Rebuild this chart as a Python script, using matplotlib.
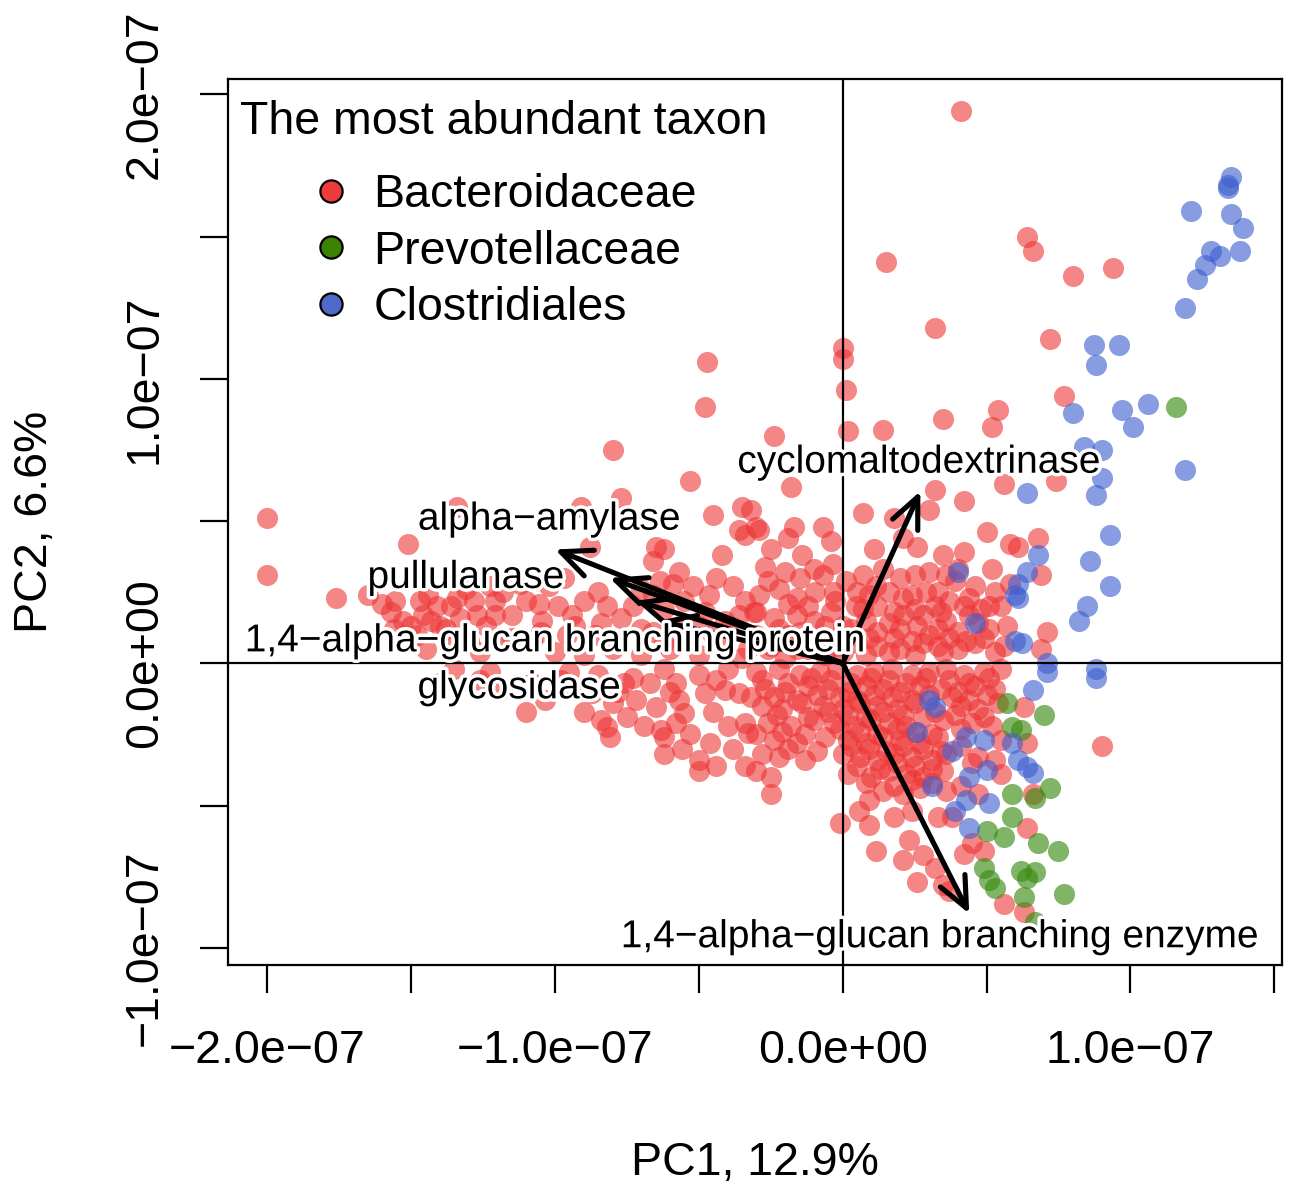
import matplotlib
matplotlib.use("Agg")
import matplotlib.pyplot as plt
import matplotlib.patheffects as pe
from matplotlib.lines import Line2D
from matplotlib.ticker import FuncFormatter, MultipleLocator
import numpy as np

SCALE = 1e-7  # values below are in units of 1e-7

# ---------------- data (PC1, PC2) in units of 1e-7 ----------------
bact_top = [(0.41,1.94),(0.15,1.41),(0.32,1.18),(0.00,1.11),(0.00,1.07),(0.64,1.50),(0.66,1.45),
            (0.80,1.36),(0.94,1.39),(0.72,1.14),(-0.47,1.06),(-0.48,0.90),(-0.24,0.80),(-0.53,0.64),
            (-0.80,0.75),(-0.77,0.58),(-1.34,0.55),(-1.51,0.42),(-2.00,0.51),(-2.00,0.31),(-1.76,0.23),
            (0.01,0.96),(0.35,0.86),(0.54,0.89),(0.52,0.83),(0.02,0.815),(0.14,0.82),(0.77,0.94),
            (-0.18,0.62),(0.56,0.63),(0.42,0.57),(0.32,0.61),(0.07,0.53),(0.18,0.51),(0.30,0.54),
            (-0.17,0.48),(-0.07,0.48),(-0.19,0.44),(-0.04,0.43),(-0.14,0.38),(-0.30,0.48),(0.11,0.40),
            (0.21,0.44),(0.26,0.41),(0.35,0.38),(0.42,0.39),(0.50,0.46),(0.58,0.42),(0.46,0.27),
            (0.39,0.29),(0.74,0.64),(0.68,0.44),(0.69,0.31),(0.61,0.41),(0.71,0.11),(0.69,0.05),
            (-0.35,0.55),(-0.45,0.52),(-0.25,0.40),(-0.34,0.45),(-0.91,0.55)]
bact_left_up = [(-0.32,0.54),(-0.36,0.47),(-0.29,0.47),(-0.65,0.41),(-0.62,0.40),(-0.66,0.36),
                (-0.88,0.41),(-0.42,0.38),(-0.57,0.32),(-0.85,0.25),(-0.635,0.29),(-0.59,0.28),
                (-0.52,0.27),(-0.465,0.24),(-0.66,0.24),(-0.34,0.22),(-0.36,0.17),(-0.41,0.15),
                (-0.50,0.13),(-0.57,0.13),(-0.66,0.11),(-0.73,0.20),(-1.02,0.27),(-1.10,0.22),
                (-1.055,0.21),(-1.15,0.17),(-0.99,0.20),(-0.94,0.17),(-1.18,0.25),(-1.21,0.17),
                (-1.045,0.15),(-0.93,0.13),(-0.84,0.14),(-0.78,0.08),(-1.15,0.09),(-1.08,0.08),
                (-1.60,0.21),(-1.555,0.22),(-1.46,0.17),(-1.41,0.20),(-1.53,0.15),(-1.43,0.15),
                (-1.36,0.20),(-1.33,0.16),(-1.50,0.13),(-1.24,0.13),(-1.225,0.27),(-1.47,0.22),
                (-1.38,0.12),(-1.30,0.08),(-1.28,0.22),(-1.31,0.26),
                (-1.00,0.04),(-0.90,0.03),(-0.80,0.05),(-0.70,0.03),(-0.60,0.05),(-0.50,0.03),
                (-0.42,0.06),(-0.35,0.02),(-0.26,0.05),(-0.20,0.02),(-0.12,0.05),(-0.06,0.03),
                (-0.55,0.09),(-0.45,0.10),(-0.30,0.10)]
bact_left_up2 = [(-1.12,0.28),(-0.97,0.30),(-0.90,0.22),(-0.82,0.20),(-0.77,0.16),(-0.70,0.26),
                 (-0.62,0.19),(-0.55,0.22),(-0.48,0.18),(-0.44,0.30),(-0.38,0.27),(-0.31,0.18),
                 (-0.86,0.10),(-0.96,0.10),(-1.05,0.11),(-1.20,0.08),(-0.70,0.12),(-0.62,0.07),
                 (-0.40,0.12),(-0.33,0.05),(-1.65,0.24),(-1.57,0.18),(-1.44,0.24),(-1.40,0.13),
                 (-1.34,0.23),(-1.27,0.17),(-1.21,0.22),(-1.48,0.10),(-1.56,0.12),(-1.35,0.09),
                 (-1.26,0.04),(-1.45,0.05)]
bact_left_down = [(-1.10,-0.17),(-0.82,-0.225),(-0.81,-0.26),(-0.84,-0.20),(-0.63,-0.235),
                  (-0.62,-0.26),(-0.62,-0.32),(-0.53,-0.25),(-0.46,-0.28),(-0.50,-0.34),
                  (-0.50,-0.38),(-0.34,-0.36),(-0.34,-0.21),(-0.33,-0.245),(-0.76,-0.07),
                  (-0.72,-0.13),(-0.65,-0.155),(-0.57,-0.13),(-0.55,-0.175),(-0.48,-0.105),
                  (-0.41,-0.095),(-0.36,-0.105),(-0.32,-0.12),(-0.58,-0.07),(-0.67,-0.07),
                  (-0.93,-0.095),(-1.035,-0.13),(-1.08,-0.07),(-0.87,-0.105),(-0.80,-0.14),
                  (-0.73,-0.05),(-1.225,-0.03),(-1.35,-0.02),(-1.26,-0.06),(-1.19,-0.095),
                  (-1.40,-0.07),(-0.95,-0.03),(-0.85,-0.04),(-0.62,-0.02),(-0.50,-0.04),(-0.40,-0.02),
                  (-0.90,-0.17),(-0.75,-0.19),(-0.69,-0.22),(-0.58,-0.21),(-0.45,-0.17),(-0.40,-0.22),
                  (-0.38,-0.30),(-0.44,-0.36),(-0.56,-0.30),(-0.98,-0.06),(-0.78,-0.10),(-0.60,-0.10),
                  (-0.44,-0.06),(-0.30,-0.25),(-0.28,-0.32),(-0.30,-0.38)]
bact_center_up = [(-0.035,0.35),(-0.07,0.31),(0.01,0.29),(-0.095,0.25),(-0.025,0.22),(0.045,0.20),
                  (-0.12,0.20),(-0.19,0.21),(-0.26,0.29),(-0.27,0.34),(0.115,0.27),(0.16,0.25),
                  (0.21,0.23),(0.25,0.31),(0.29,0.25),(0.32,0.20),(0.37,0.22),(0.42,0.20),
                  (0.51,0.20),(0.58,0.28),(0.55,0.20),(0.28,0.17),(0.21,0.17),(0.16,0.14),
                  (0.08,0.15),(0.09,0.09),(0.18,0.09),(0.24,0.08),(0.30,0.10),(0.37,0.09),
                  (0.43,0.08),(0.49,0.09),(0.53,0.04),(0.35,0.04),(0.25,0.03),(0.16,0.04),
                  (0.08,0.03),(-0.19,0.10),(-0.24,0.16),(-0.28,0.08),(-0.13,0.08),(-0.06,0.13),
                  (0.00,0.04),(-0.10,0.15),(0.03,0.12),(0.12,0.20),(0.36,0.15),(0.47,0.14),
                  (-0.22,0.26),(0.05,0.25),(0.20,0.30),(0.40,0.33),(-0.15,0.30)]
bact_center_up2 = [(-0.25,0.06),(-0.16,0.05),(-0.09,0.07),(-0.02,0.06),(0.05,0.07),(0.12,0.06),
                   (0.20,0.05),(0.28,0.07),(0.33,0.06),(0.40,0.05),(0.46,0.07),(0.56,0.06),
                   (-0.22,0.12),(-0.15,0.11),(0.00,0.13),(0.12,0.11),(0.20,0.12),(0.26,0.13),
                   (0.33,0.12),(0.40,0.11),(0.51,0.12),(0.57,0.13),
                   (-0.30,0.18),(-0.16,0.17),(-0.04,0.18),(0.07,0.19),(0.18,0.18),(0.25,0.19),
                   (0.34,0.18),(0.44,0.17),(0.48,0.19),
                   (-0.29,0.24),(-0.16,0.23),(-0.03,0.25),(0.09,0.24),(0.24,0.24),(0.33,0.25),
                   (0.44,0.23),(0.53,0.25),
                   (-0.20,0.32),(-0.10,0.33),(0.07,0.31),(0.14,0.33),(0.30,0.32),(0.36,0.31),(0.52,0.33)]
bact_center_down = [(-0.30,-0.03),(-0.22,-0.02),(-0.15,-0.04),(-0.08,-0.03),(-0.02,-0.02),(0.05,-0.04),
                    (0.11,-0.03),(0.17,-0.02),(0.24,-0.04),(0.30,-0.03),(0.36,-0.02),(0.42,-0.04),
                    (0.49,-0.03),(0.55,-0.02),
                    (-0.27,-0.09),(-0.20,-0.10),(-0.12,-0.08),(-0.05,-0.09),(0.02,-0.10),(0.08,-0.08),
                    (0.14,-0.09),(0.20,-0.10),(0.27,-0.08),(0.34,-0.09),(0.40,-0.10),(0.46,-0.08),
                    (0.53,-0.09),
                    (-0.28,-0.15),(-0.21,-0.16),(-0.14,-0.14),(-0.07,-0.15),(0.00,-0.16),(0.06,-0.14),
                    (0.12,-0.15),(0.19,-0.16),(0.25,-0.14),(0.41,-0.15),(0.47,-0.16),(0.54,-0.14),
                    (-0.26,-0.21),(-0.18,-0.22),(-0.10,-0.20),(-0.03,-0.21),(0.04,-0.22),(0.10,-0.20),
                    (0.16,-0.21),(0.22,-0.22),(0.35,-0.20),(0.45,-0.21),(0.52,-0.22),
                    (-0.24,-0.27),(-0.16,-0.28),(-0.06,-0.26),(0.02,-0.27),(0.08,-0.28),(0.14,-0.26),
                    (0.20,-0.27),(0.27,-0.28),(0.33,-0.26),(0.55,-0.27),
                    (-0.22,-0.33),(-0.13,-0.34),(0.00,-0.32),(0.06,-0.33),(0.12,-0.34),(0.18,-0.32),
                    (0.24,-0.33),(0.31,-0.34),(0.36,-0.32),(0.47,-0.33),(0.53,-0.34),
                    (0.02,-0.39),(0.10,-0.40),(0.16,-0.38),(0.22,-0.39),(0.28,-0.40),(0.35,-0.38),
                    (0.55,-0.39),(0.14,-0.45),(0.21,-0.46),(0.27,-0.44),(0.36,-0.45),(0.47,-0.46),
                    (-0.25,-0.46),(-0.25,-0.40),(-0.01,-0.56),(0.09,-0.57),(0.055,-0.52),(0.09,-0.48),
                    (0.115,-0.66),(0.21,-0.69),(0.26,-0.77),(0.28,-0.675),(0.23,-0.62),(0.32,-0.72),
                    (0.35,-0.78),(0.37,-0.80),(0.18,-0.54),(0.24,-0.52),(0.33,-0.54),(0.38,-0.54),
                    (0.63,-0.155),(0.64,-0.28),(0.90,-0.29),(0.66,-0.46),(0.64,-0.58),(0.63,-0.875),
                    (0.56,-0.845),(0.49,-0.66),(0.42,-0.67),(0.45,-0.63)]
bact_center_down2 = [(-0.28,-0.06),(-0.19,-0.07),(-0.11,-0.05),(-0.04,-0.06),(0.03,-0.07),(0.10,-0.05),
                     (0.16,-0.06),(0.22,-0.07),(0.29,-0.05),(0.37,-0.06),(0.44,-0.07),(0.51,-0.05),
                     (-0.24,-0.12),(-0.16,-0.13),(-0.09,-0.11),(-0.01,-0.12),(0.05,-0.13),(0.11,-0.11),
                     (0.17,-0.12),(0.24,-0.13),(0.30,-0.11),(0.38,-0.12),(0.44,-0.13),(0.50,-0.11),
                     (-0.23,-0.18),(-0.12,-0.19),(-0.05,-0.17),(0.02,-0.18),(0.08,-0.19),(0.14,-0.17),
                     (0.21,-0.18),(0.28,-0.19),(0.32,-0.17),(0.39,-0.18),(0.49,-0.19),
                     (-0.21,-0.24),(-0.13,-0.25),(-0.01,-0.23),(0.06,-0.24),(0.12,-0.25),(0.19,-0.23),
                     (0.25,-0.24),(0.31,-0.25),(0.41,-0.23),
                     (-0.19,-0.30),(-0.09,-0.31),(0.03,-0.29),(0.09,-0.30),(0.15,-0.31),(0.21,-0.29),
                     (0.28,-0.30),(0.34,-0.31),(0.41,-0.29),
                     (0.05,-0.36),(0.13,-0.37),(0.19,-0.35),(0.25,-0.36),(0.31,-0.37),(0.45,-0.35),
                     (0.08,-0.42),(0.18,-0.43),(0.24,-0.41),(0.31,-0.42),(0.41,-0.43)]
prev_pts = [(0.70,-0.18),(0.57,-0.14),(0.59,-0.225),(0.62,-0.235),(0.72,-0.44),(0.67,-0.475),
            (0.59,-0.46),(0.59,-0.54),(0.50,-0.59),(0.56,-0.61),(0.68,-0.63),(0.75,-0.66),
            (0.49,-0.72),(0.62,-0.73),(0.67,-0.735),(0.64,-0.755),(0.53,-0.79),(0.51,-0.76),
            (0.77,-0.81),(0.63,-0.82),(0.67,-0.91),(1.16,0.90)]
clos_pts = [(1.35,1.71),(1.34,1.68),(1.34,1.67),(1.21,1.59),(1.35,1.58),(1.39,1.53),(1.28,1.45),
            (1.31,1.43),(1.38,1.45),(1.26,1.40),(1.23,1.35),(1.19,1.25),(0.875,1.12),(0.96,1.12),
            (0.88,1.05),(0.80,0.88),(0.97,0.89),(1.06,0.91),(1.01,0.83),(0.84,0.76),(0.90,0.75),
            (0.90,0.65),(0.88,0.59),(0.64,0.60),(1.19,0.68),(0.93,0.45),(0.86,0.36),(0.93,0.27),
            (0.85,0.20),(0.82,0.15),(0.68,0.38),(0.64,0.32),(0.61,0.28),(0.61,0.23),(0.625,0.07),
            (0.71,0.00),(0.88,-0.02),(0.88,-0.05),(0.71,-0.03),(0.66,-0.095),(0.64,-0.365),
            (0.66,-0.385),(0.40,0.32),(0.60,0.24),(0.46,0.14),(0.60,0.08),(0.44,-0.58),(0.43,-0.48),
            (0.39,-0.52),(0.50,-0.375),(0.31,-0.43),(0.38,-0.31),(0.43,-0.26),(0.49,-0.27),
            (0.30,-0.13),(0.32,-0.155),(0.26,-0.24),(0.44,-0.40),(0.51,-0.49),(0.59,-0.28),(0.61,-0.34)]

groups = ["Bacteroidaceae", "Prevotellaceae", "Clostridiales"]

arrow_names = ["alpha\u2212amylase", "pullulanase", "glycosidase",
               "1,4\u2212alpha\u2212glucan branching protein",
               "cyclomaltodextrinase", "1,4\u2212alpha\u2212glucan branching enzyme"]
arrow_pc1 = [-1.00, -0.81, -0.72, -0.64, 0.27, 0.44]
arrow_pc2 = [0.40, 0.30, 0.22, 0.15, 0.605, -0.88]
label_pc1 = [-1.02, -1.31, -1.125, -1.00, 0.265, 0.337]
label_pc2 = [0.505, 0.30, -0.088, 0.077, 0.705, -0.963]

# ---------------- figure ----------------
plt.rcParams['font.family'] = ['Liberation Sans', 'DejaVu Sans']
fig = plt.figure(figsize=(12.9, 11.83), dpi=100)
ax = fig.add_axes([228/1290, 1 - 965/1183, (1282-228)/1290, (965-79)/1183])

red_fill, green_fill, blue_fill = '#EE3535', '#3C8C14', '#3F5FCF'
bact = (bact_top + bact_left_up + bact_left_up2 + bact_left_down + bact_center_up +
        bact_center_up2 + bact_center_down + bact_center_down2)
for pts, col, a in [(bact, red_fill, 0.6), (prev_pts, green_fill, 0.65), (clos_pts, blue_fill, 0.62)]:
    arr = np.array(pts)
    ax.scatter(arr[:, 0]*SCALE, arr[:, 1]*SCALE, s=230, c=col, alpha=a, linewidths=0, zorder=2)

ax.axhline(0, color='black', lw=1.6, zorder=3)
ax.axvline(0, color='black', lw=1.6, zorder=3)

halo = [pe.withStroke(linewidth=5, foreground='white')]
for i, name in enumerate(arrow_names):
    ax.annotate('', xy=(arrow_pc1[i]*SCALE, arrow_pc2[i]*SCALE), xytext=(0, 0),
                arrowprops=dict(arrowstyle='->,head_length=1.0,head_width=0.45', lw=3.7,
                                color='black', shrinkA=0, shrinkB=0, mutation_scale=22),
                zorder=4)
for i, name in enumerate(arrow_names):
    ax.text(label_pc1[i]*SCALE, label_pc2[i]*SCALE, name, fontsize=28, ha='center', va='center',
            path_effects=halo, zorder=5)

ax.set_xlim(-2.1366e-7, 1.527e-7)
ax.set_ylim(-1.0605e-7, 2.0538e-7)

def fmt(v, pos):
    if abs(round(v/1e-7) - v/1e-7) > 1e-6:
        return ''
    return f"{v:.1e}".replace('-', '\u2212')

for axis in (ax.xaxis, ax.yaxis):
    axis.set_major_locator(MultipleLocator(0.5e-7))
    axis.set_major_formatter(FuncFormatter(fmt))
ax.tick_params(direction='out', length=20, width=1.6, labelsize=33.5, pad=26)
ax.tick_params(axis='y', pad=24)
for lab in ax.get_yticklabels():
    lab.set_rotation(90)
    lab.set_va('center')
for sp in ax.spines.values():
    sp.set_linewidth(1.6)

ax.set_xlabel("PC1, 12.9%", fontsize=33.5)
ax.set_ylabel("PC2, 6.6%", fontsize=33.5)
ax.xaxis.set_label_coords(0.5, (965-1163)/886)
ax.xaxis.label.set_va('center')
ax.yaxis.set_label_coords((35-228)/1054, 0.5)
ax.yaxis.label.set_va('center')

ax.text(0.0114, (965-122)/886, "The most abundant taxon", transform=ax.transAxes,
        fontsize=33.5, ha='left', va='center')
leg_cols = ['#EE3B3B', '#3C8200', '#5068C8']
handles = [Line2D([], [], ls='none', marker='o', markersize=16, markerfacecolor=c,
                  markeredgecolor='black', markeredgewidth=1.6) for c in leg_cols]
ax.legend(handles, groups, loc='upper left', bbox_to_anchor=((308-228)/1054, (965-173)/886),
          frameon=False, fontsize=33.5, handlelength=1.0, handletextpad=0.4,
          borderpad=0, borderaxespad=0, labelspacing=0.27)

fig.savefig("out.png", dpi=100)
